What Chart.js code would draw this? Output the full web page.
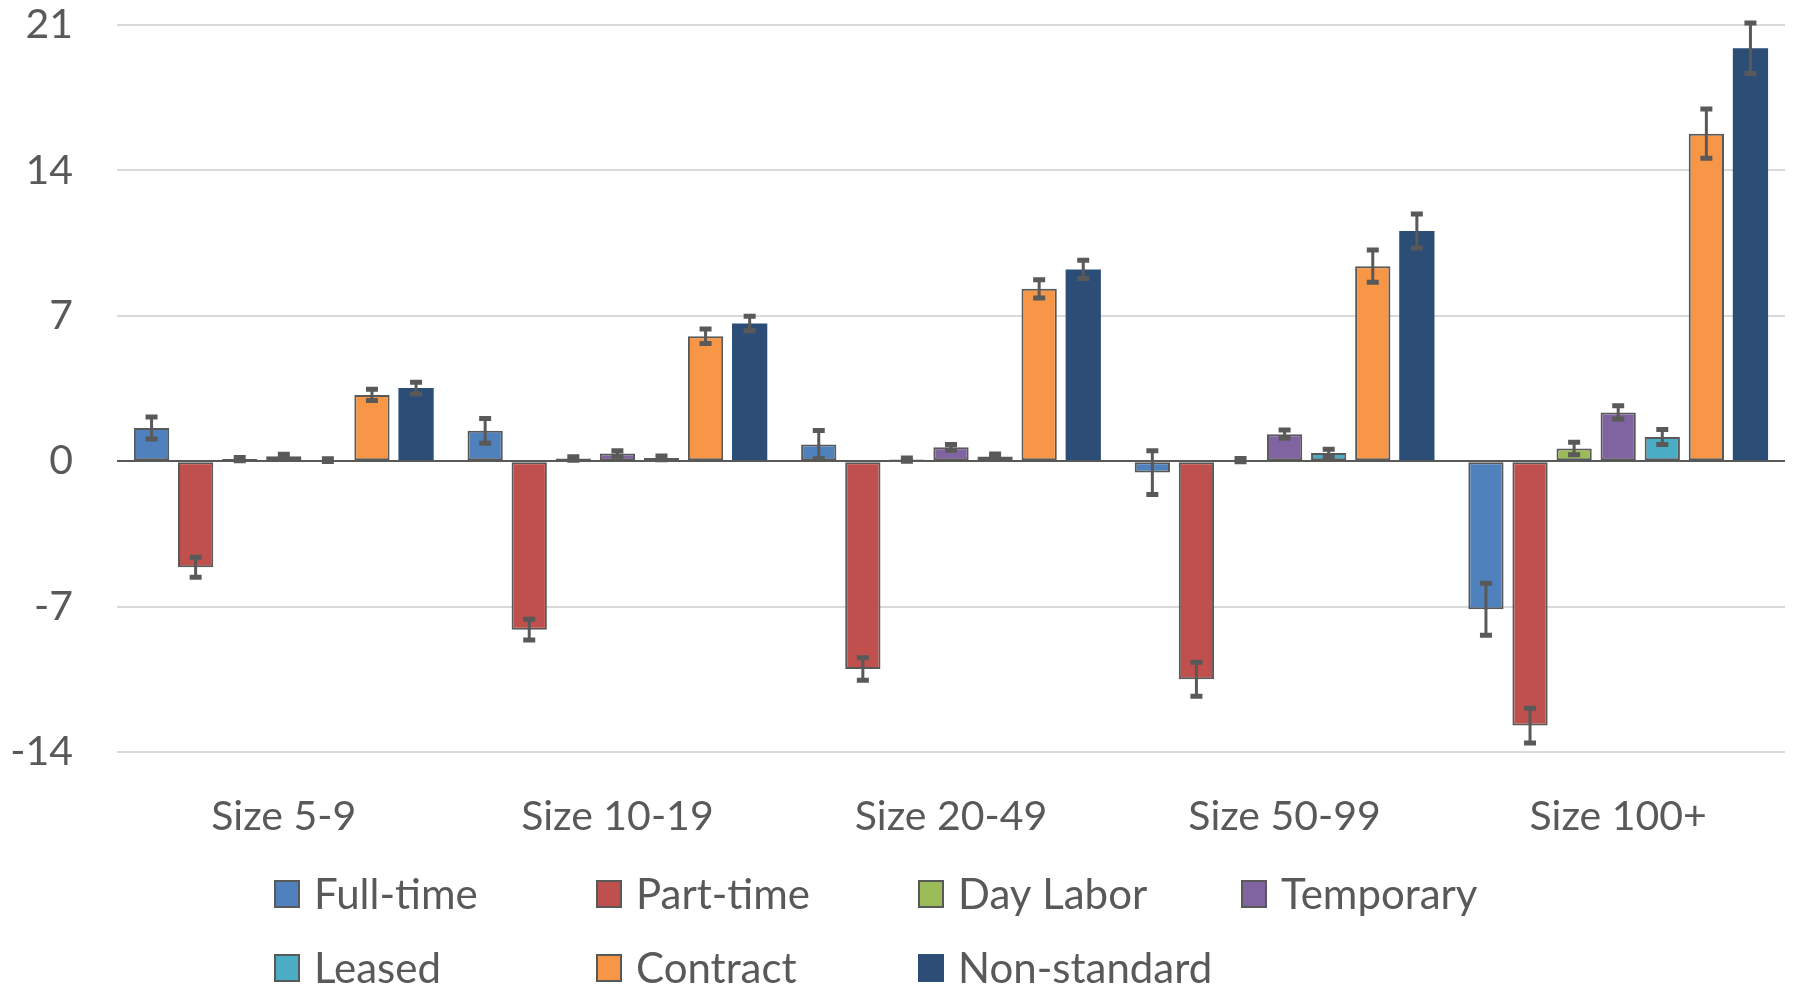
<!DOCTYPE html>
<html>
<head>
<meta charset="utf-8">
<script src="https://cdn.jsdelivr.net/npm/chart.js@4/dist/chart.umd.min.js"></script>
<style>
  html, body { margin: 0; padding: 0; background: #ffffff; }
  #wrap { width: 1794px; height: 985px; position: relative; }
</style>
</head>
<body>
<div id="wrap"><canvas id="sizeChart"></canvas></div>
<script>
//------------------------------------------------------------//
//--------------------DATA------------------------------------//
//------------------------------------------------------------//
var categories = ['Size 5-9', 'Size 10-19', 'Size 20-49', 'Size 50-99', 'Size 100+'];
var yTicks = [-14, -7, 0, 7, 14, 21];

var seriesNames = ['Full-time', 'Part-time', 'Day Labor', 'Temporary', 'Leased', 'Contract', 'Non-standard'];

var fullTime    = [1.60, 1.46, 0.80, -0.55, -7.13];
var partTime    = [-5.11, -8.11, -10.0, -10.5, -12.73];
var dayLabor    = [0.10, 0.13, 0.08, 0.05, 0.61];
var temporary   = [0.24, 0.37, 0.67, 1.30, 2.35];
var leased      = [0.05, 0.16, 0.23, 0.40, 1.17];
var contract    = [3.19, 6.02, 8.30, 9.39, 15.77];
var nonStandard = [3.52, 6.63, 9.23, 11.08, 19.88];

// half width of each error bar
var fullTimeErr    = [0.53, 0.59, 0.68, 1.05, 1.25];
var partTimeErr    = [0.48, 0.50, 0.54, 0.82, 0.84];
var dayLaborErr    = [0.08, 0.08, 0.08, 0.08, 0.30];
var temporaryErr   = [0.10, 0.13, 0.14, 0.20, 0.32];
var leasedErr      = [0.07, 0.09, 0.12, 0.17, 0.36];
var contractErr    = [0.27, 0.35, 0.44, 0.78, 1.19];
var nonStandardErr = [0.28, 0.35, 0.44, 0.82, 1.22];

var seriesValues = [fullTime, partTime, dayLabor, temporary, leased, contract, nonStandard];
var seriesErrors = [fullTimeErr, partTimeErr, dayLaborErr, temporaryErr, leasedErr, contractErr, nonStandardErr];
var seriesColors = ['#4F81BD', '#C0504D', '#9BBB59', '#8064A2', '#4BACC6', '#F79646', '#2C4D75'];

var textColor = '#595959';
var fontFamily = 'Lato, "Open Sans", sans-serif';

//------------------------------------------------------------//
//--------------------PLUGINS---------------------------------//
//------------------------------------------------------------//
var errorBarPlugin = {
  id: 'errorBars',
  afterDatasetsDraw: function(chart){
    var ctx = chart.ctx;
    var yScale = chart.scales.y;
    ctx.save();
    ctx.strokeStyle = '#595959';
    chart.data.datasets.forEach(function(ds, di){
      var meta = chart.getDatasetMeta(di);
      meta.data.forEach(function(bar, i){
        var v = ds.data[i];
        var e = ds.errors[i];
        var yHi = yScale.getPixelForValue(v + e);
        var yLo = yScale.getPixelForValue(v - e);
        ctx.lineWidth = 3;
        ctx.beginPath();
        ctx.moveTo(bar.x, yHi);
        ctx.lineTo(bar.x, yLo);
        ctx.stroke();
        ctx.lineWidth = 5;
        ctx.beginPath();
        ctx.moveTo(bar.x - 6, yHi);
        ctx.lineTo(bar.x + 6, yHi);
        ctx.moveTo(bar.x - 6, yLo);
        ctx.lineTo(bar.x + 6, yLo);
        ctx.stroke();
      });
    });
    ctx.restore();
  }
};

// legend drawn as a fixed 4 column grid, like the original
var gridLegendPlugin = {
  id: 'gridLegend',
  afterDraw: function(chart){
    var ctx = chart.ctx;
    var colX = [274, 596, 918, 1241];
    var rowY = [894, 968];
    ctx.save();
    ctx.font = '42px ' + fontFamily;
    ctx.textBaseline = 'middle';
    ctx.textAlign = 'left';
    chart.data.datasets.forEach(function(ds, i){
      var x = colX[i % 4];
      var y = rowY[Math.floor(i / 4)];
      ctx.fillStyle = ds.backgroundColor;
      ctx.fillRect(x, y - 14, 26, 28);
      if(ds.borderWidth > 0){
        ctx.strokeStyle = ds.borderColor;
        ctx.lineWidth = 2;
        ctx.strokeRect(x + 1, y - 13, 24, 26);
      }
      ctx.fillStyle = textColor;
      ctx.fillText(ds.label, x + 40, y + 1);
    });
    ctx.restore();
  }
};

//------------------------------------------------------------//
//--------------------CHART-----------------------------------//
//------------------------------------------------------------//
var datasets = [];
for(var i = 0; i < seriesNames.length; i++){
  datasets.push({
    label: seriesNames[i],
    data: seriesValues[i],
    errors: seriesErrors[i],
    backgroundColor: seriesColors[i],
    borderColor: i === 6 ? seriesColors[i] : '#595959',
    borderWidth: i === 6 ? 0 : 2,
    borderSkipped: false,
    categoryPercentage: 0.925,
    barPercentage: 0.8
  });
}

var ctx = document.getElementById('sizeChart').getContext('2d');
var sizeChart = new Chart(ctx, {
  type: 'bar',
  data: {
    labels: categories,
    datasets: datasets
  },
  options: {
    responsive: true,
    maintainAspectRatio: false,
    animation: false,
    layout: { padding: { top: 25, right: 9, bottom: 0, left: 0 } },
    plugins: {
      legend: { display: false },
      tooltip: { enabled: false }
    },
    scales: {
      x: {
        grid: { display: false, drawTicks: false },
        border: { display: false },
        ticks: { color: textColor, font: { family: fontFamily, size: 41 }, padding: 40 },
        afterFit: function(scale){ scale.height = 233; }
      },
      y: {
        min: -14,
        max: 21,
        afterBuildTicks: function(scale){
          scale.ticks = yTicks.map(function(v){ return { value: v }; });
        },
        grid: {
          drawTicks: false,
          lineWidth: 2,
          color: function(c){ return c.tick && c.tick.value === 0 ? '#595959' : '#D9D9D9'; }
        },
        border: { display: false },
        ticks: { color: textColor, font: { family: fontFamily, size: 41 }, padding: 44 },
        afterFit: function(scale){
          scale.width = 117;
          scale.paddingTop = 0;
          scale.paddingBottom = 0;
        }
      }
    }
  },
  plugins: [errorBarPlugin, gridLegendPlugin]
});
</script>
</body>
</html>
